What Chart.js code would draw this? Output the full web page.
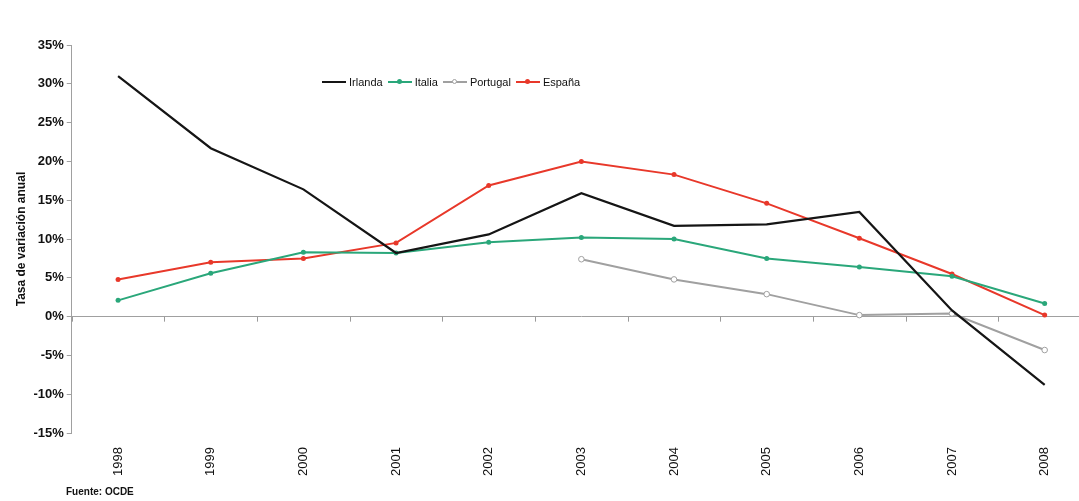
<!DOCTYPE html>
<html lang="es">
<head>
  <meta charset="UTF-8">
  <title>Tasa de variación anual</title>
  <script src="https://cdn.jsdelivr.net/npm/chart.js"></script>
  <style>
    body { margin: 0; background: #fff; font-family: "Liberation Sans", Arial, sans-serif; overflow: hidden; }
    #wrap { position: relative; width: 1079px; height: 501px; overflow: hidden; }
    #legend { position: absolute; left: 322px; top: 76px; font-size: 11px; color: #111; display: flex; gap: 5px; align-items: center; }
    #legend span.item { display: flex; align-items: center; }
    #legend i { display: inline-block; width: 24px; height: 2px; margin-right: 3px; position: relative; }
    #legend i b { position: absolute; left: 9px; top: -2px; width: 5px; height: 5px; border-radius: 50%; box-sizing: border-box; }
    #source { position: absolute; left: 66px; top: 486px; font-size: 10px; font-weight: bold; color: #111; }
  </style>
</head>
<body>
  <div id="wrap">
    <canvas id="chart" width="1096" height="501"></canvas>
    <div id="legend">
      <span class="item"><i style="background:#151515"></i>Irlanda</span>
      <span class="item"><i style="background:#2aa77a"><b style="background:#2aa77a"></b></i>Italia</span>
      <span class="item"><i style="background:#a0a0a0"><b style="background:#fff;border:1px solid #a0a0a0"></b></i>Portugal</span>
      <span class="item"><i style="background:#e8382a"><b style="background:#e8382a"></b></i>España</span>
    </div>
    <div id="source">Fuente: OCDE</div>
  </div>

  <script>
    const years = ['1998', '1999', '2000', '2001', '2002', '2003', '2004', '2005', '2006', '2007', '2008'];
    const irlanda = [31.0, 21.7, 16.4, 8.2, 10.6, 15.9, 11.7, 11.9, 13.5, 0.8, -8.8];
    const italia = [2.1, 5.6, 8.3, 8.2, 9.6, 10.2, 10.0, 7.5, 6.4, 5.2, 1.7];
    const portugal = [null, null, null, null, null, 7.4, 4.8, 2.9, 0.2, 0.4, -4.3];
    const espana = [4.8, 7.0, 7.5, 9.5, 16.9, 20.0, 18.3, 14.6, 10.1, 5.5, 0.2];
    const yMin = -15, yMax = 35, yStep = 5;

    // small tick marks on the zero line, between categories
    const zeroTicks = {
      id: 'zeroTicks',
      afterDatasetsDraw(chart) {
        const x = chart.scales.x, y = chart.scales.y;
        const y0 = y.getPixelForValue(0);
        const ctx = chart.ctx;
        ctx.save();
        ctx.strokeStyle = '#9a9a9a';
        ctx.lineWidth = 1;
        for (let i = 0; i <= years.length; i++) {
          const px = Math.round(x.getPixelForValue(i - 0.5)) + 0.5;
          ctx.beginPath();
          ctx.moveTo(px, y0);
          ctx.lineTo(px, y0 + 5);
          ctx.stroke();
        }
        ctx.restore();
      }
    };

    new Chart(document.getElementById('chart'), {
      type: 'line',
      data: {
        labels: years,
        datasets: [
          { label: 'Irlanda', data: irlanda, borderColor: '#151515', borderWidth: 2.2, pointRadius: 0, tension: 0 },
          { label: 'Italia', data: italia, borderColor: '#2aa77a', backgroundColor: '#2aa77a', borderWidth: 2, pointRadius: 2.5, pointBorderWidth: 0, tension: 0 },
          { label: 'Portugal', data: portugal, borderColor: '#a0a0a0', backgroundColor: '#ffffff', borderWidth: 2, pointRadius: 2.8, pointBorderWidth: 1, tension: 0 },
          { label: 'España', data: espana, borderColor: '#e8382a', backgroundColor: '#e8382a', borderWidth: 2, pointRadius: 2.5, pointBorderWidth: 0, tension: 0 }
        ]
      },
      options: {
        responsive: false,
        animation: false,
        layout: { padding: { top: 45, right: 0, left: 12, bottom: 19 } },
        plugins: { legend: { display: false }, tooltip: { enabled: false } },
        scales: {
          x: {
            offset: true,
            grid: { display: false },
            border: { display: false },
            ticks: {
              minRotation: 90, maxRotation: 90,
              color: '#111',
              padding: 6,
              font: { family: 'Liberation Sans', size: 13 }
            }
          },
          y: {
            min: yMin, max: yMax,
            ticks: {
              stepSize: yStep,
              callback: v => v + '%',
              color: '#111',
              padding: 3,
              font: { family: 'Liberation Sans', size: 13, weight: 'bold' }
            },
            grid: {
              color: c => c.tick && c.tick.value === 0 ? '#a0a0a0' : 'rgba(0,0,0,0)',
              tickColor: '#a0a0a0',
              tickLength: 5,
              lineWidth: 1
            },
            border: { display: true, color: '#a0a0a0' },
            title: {
              display: true,
              text: 'Tasa de variación anual',
              color: '#111',
              font: { family: 'Liberation Sans', size: 12, weight: 'bold' },
              padding: 2
            }
          }
        }
      },
      plugins: [zeroTicks]
    });
  </script>
</body>
</html>
